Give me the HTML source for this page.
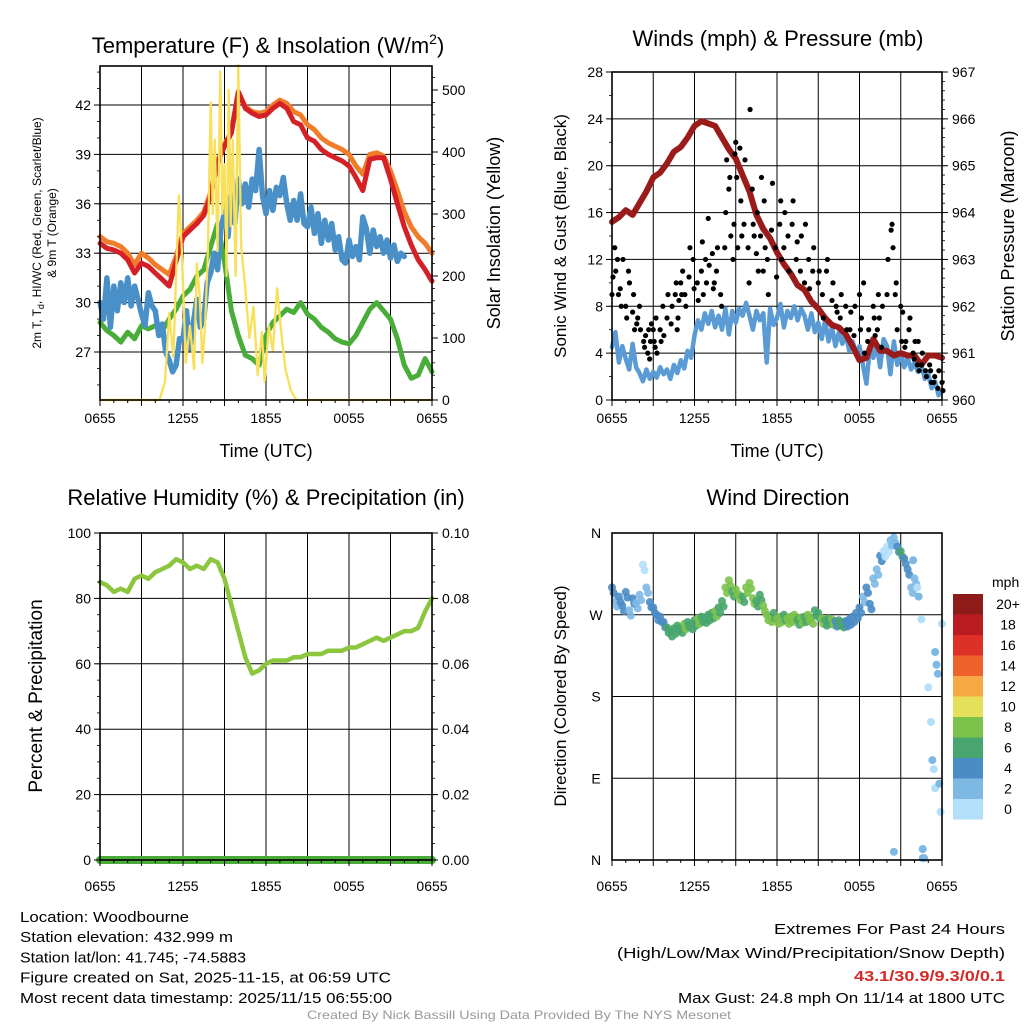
<!DOCTYPE html>
<html><head><meta charset="utf-8"><style>
html,body{margin:0;padding:0;background:#fff;}
svg{display:block;font-family:"Liberation Sans",Arial,sans-serif;}
</style></head><body>
<svg id="root" width="1024" height="1024" viewBox="0 0 1024 1024" xmlns="http://www.w3.org/2000/svg"></svg>
<script>
// ---------- DATA ----------
const halfHours = []; for (let i = 0; i <= 48; i++) halfHours.push(i * 0.5);
const quarterHours = []; for (let i = 0; i <= 96; i++) quarterHours.push(i * 0.25);
const xTickLabels = ["0655","1255","1855","0055","0655"];
const tempRed = [33.6,33.3,33.2,33.0,32.6,31.8,32.4,32.2,31.8,31.4,31.0,32.5,34.0,34.4,34.8,35.3,36.5,38.5,39.5,40.3,42.8,41.8,41.5,41.3,41.4,41.8,42.1,41.8,41.0,40.8,40.0,39.8,39.3,39.0,38.8,38.6,38.3,37.6,36.8,38.7,38.8,38.8,37.5,36.0,34.6,33.5,32.6,32.0,31.3];
const tempOrange = [34.0,33.7,33.6,33.4,33.0,32.3,33.0,32.7,32.3,32.0,31.7,32.8,34.2,34.6,35.0,35.5,36.7,38.6,39.6,40.4,42.8,41.9,41.6,41.5,41.6,42.0,42.3,42.1,41.6,41.4,40.8,40.5,40.0,39.7,39.5,39.3,39.0,38.3,37.8,39.0,39.1,38.9,38.0,36.8,35.5,34.6,34.0,33.6,33.0];
const tempBlue = [30,29,31.5,28.5,31,29.5,31.2,30,31.5,29.8,31,30.2,29.3,28.6,30.6,29.8,29.5,28,28.7,27,26.5,25.8,26.2,27.8,27.8,29.5,27.2,28.8,30.2,28.5,29,31.2,31.8,33,32,34.5,35.5,34,36.5,34.8,37.5,36,37.2,35.8,37.5,36.8,39.3,36.5,35.4,36.8,35.6,37,36.5,37.6,36,35,36.2,35,36.6,34.8,34.6,35.8,34.2,35.4,33.6,35,33.8,34.8,33.2,34,32.6,32.4,33.8,32.8,33.4,32.6,35.2,34.5,33,34.4,33.4,34,33,33.8,32.7,33.5,32.5,33,32.8];
const tempGreen = [28.8,28.3,28.0,27.6,28.2,27.8,28.6,28.4,28.6,28.3,29.0,29.6,30.4,30.8,31.6,32.0,33.4,34.8,32.5,29.5,28.0,26.8,26.6,26.2,28.0,28.8,29.2,29.6,29.4,30.0,29.3,29.0,28.5,28.2,27.8,27.6,27.5,28.0,28.8,29.6,30.0,29.5,29.0,27.8,26.2,25.4,25.6,26.6,25.8];
const solarHours = [0,4.3,4.7,5.0,5.3,5.5,5.7,5.9,6.2,6.5,6.8,7.0,7.2,7.4,7.6,7.8,8.0,8.15,8.3,8.5,8.7,8.85,9.0,9.15,9.3,9.45,9.6,9.8,10.0,10.2,10.5,10.8,11.1,11.4,11.7,11.9,12.2,12.5,12.8,13.1,13.4,13.8,14.2,24];
const solarValues = [0,0,30,140,70,200,330,250,60,120,50,220,170,60,120,240,480,300,420,240,530,300,380,200,500,280,420,200,540,250,180,100,150,40,110,30,120,80,180,110,50,15,0,0];
const tempTicks = [27,30,33,36,39,42];
const solarTicks = [0,100,200,300,400,500];

const pressure = [963.8,963.9,964.05,963.95,964.2,964.45,964.75,964.85,965.05,965.3,965.4,965.6,965.85,965.95,965.9,965.85,965.6,965.35,965.15,964.8,964.45,963.95,963.65,963.45,963.15,962.9,962.7,962.45,962.35,962.1,961.95,961.75,961.6,961.55,961.4,961.15,960.85,960.9,961.3,961.05,961.05,960.95,961.0,960.95,960.95,960.75,960.95,960.95,960.9];
const windSpeed = [4.5,5.8,3.2,4.6,3.5,2.6,4.8,2.8,2.3,1.6,2.6,1.8,2.4,1.9,2.8,2.2,2.6,1.8,3.0,2.3,3.4,2.7,4.2,3.6,5.5,6.8,6.0,7.4,6.5,7.6,6.2,7.2,6.0,7.8,5.6,7.6,6.6,7.8,7.2,8.3,7.2,6.0,7.6,6.8,7.4,3.2,7.8,6.4,7.0,8.2,6.2,7.6,7.0,8.0,6.8,7.8,7.2,6.0,7.4,5.8,6.6,5.2,6.8,5.0,6.2,4.6,5.8,4.8,5.6,4.2,5.0,4.0,4.6,3.0,1.4,4.4,3.6,4.8,2.8,5.2,4.6,2.2,5.0,3.0,4.0,2.8,3.6,2.6,3.2,2.4,3.0,1.8,2.2,1.0,1.6,0.4,0.8];
const gustHours = [0.0,0.2,0.4,0.6,0.8,1.0,1.2,1.5,1.8,2.0,2.3,2.6,2.8,3.0,3.2,3.5,3.7,4.0,4.3,4.6,4.8,5.0,5.3,5.6,5.9,6.2,6.5,6.8,7.0,7.3,7.6,7.9,8.2,8.5,8.8,9.0,9.3,9.6,9.9,10.2,10.5,10.8,11.0,11.3,11.6,11.9,12.2,12.5,12.8,13.1,13.4,13.7,14.0,14.3,14.6,15.0,15.3,15.6,16.0,16.3,16.6,17.0,17.3,17.6,18.0,18.3,18.6,19.0,19.3,19.6,20.0,20.3,20.6,21.0,21.3,21.6,21.9,22.2,22.5,22.8,23.1,23.4,23.7,24.0];
const gustValues = [[9,10.5],[13,11],[12,9],[9.5,8],[12],[8,7],[11,10],[7.5,9,6],[6.5,7],[8,6],[5,4.5,5.5],[4,6,3.5],[5,6.5],[6,5,4.5],[7,4],[6,5],[8,5.5],[7,9],[6.5,8],[9,10,6],[7,8.5],[10,9,11],[9,8],[10.5,13],[12,9.5],[10,8.5],[11,13.5,9],[12,10],[15.5,11.5],[12.5,9.5,10],[11,13],[9,8],[13,16,20.5],[18,19,14],[12,15,21],[22,19,13],[21.5,17,14],[15,20.5],[13,10,24.8],[18,15,14],[12.5,16,11],[14,19],[11,17,13],[12,9],[14.5,18.5],[13,10.5],[15,17,12],[13,16],[14,11],[15,17],[12,13.5],[11,14],[10,15],[12,9.5],[11,13],[10,11],[9,7],[11,12],[8.5,10],[8,7.5],[7,9],[8,6],[6,7.5],[5.5,8],[9,6,7],[10,4],[5,6],[8,7,5.5],[6,9,7],[4.5,8],[9,12],[14.5,15,13],[9,10,6],[8,5,7.5],[4.5,5],[6,7],[4,3.5,5],[3,5,2.5],[3,4],[2.5,2],[3,2.5,1.5],[1.5,2],[1,2.5],[1.5,0.8]];
const windTicks = [0,4,8,12,16,20,24,28];
const pressureTicks = [960,961,962,963,964,965,966,967];

const rh = [85,84,82,83,82,86,87,86,88,89,90,92,91,89,90,89,92,91,86,78,70,62,57,58,60,61,61,61,62,62,63,63,63,64,64,64,65,65,66,67,68,67,68,69,70,70,71,76,80];
const precip = [0,0];
const rhTicks = [0,20,40,60,80,100];
const precipTicks = ["0.00","0.02","0.04","0.06","0.08","0.10"];

const dirStepHours = 0.25;
const dirValues = [300,285,290,280,295,275,288,283,292,325,300,284,278,270,268,262,256,252,255,258,256,260,262,260,264,266,268,267,270,272,274,278,285,300,308,296,298,292,290,300,305,288,285,292,280,270,268,272,266,268,270,266,268,270,265,267,268,270,266,275,272,266,264,266,265,263,264,262,263,265,268,272,278,290,300,282,310,320,335,340,345,352,355,345,340,332,320,300,310];
const dirSpeeds = [4,3,4,5,4,3,4,3,2,1,3,4,5,4,5,5,6,6,7,6,7,8,7,6,7,8,7,6,7,6,8,7,7,8,8,7,9,8,7,8,9,8,7,6,8,9,8,7,8,9,7,8,9,8,6,8,7,9,8,6,7,8,6,7,8,5,6,7,5,4,5,4,5,3,4,5,3,2,4,1,1,2,3,4,6,5,4,3,2];
const lateDirHours = [22.3,22.5,22.6,22.7,23.0,23.2,23.3,23.4,23.5,23.5,23.6,23.7,23.8,23.9,24.0,20.5,22.6,22.6,22.2,21.9];
const lateDirValues = [290,265,12,2,190,152,110,100,79,229,215,205,84,53,260,9,12,2,300,330];
const lateDirSpeeds = [2,1,3,3,1,1,3,1,1,2,2,2,2,1,1,2,3,2,1,2];
const dirLabels = ["N","E","S","W","N"];
const dirTicks = [0,90,180,270,360];
const speedLegend = ["0","2","4","6","8","10","12","14","16","18","20+"];
const speedColors = ["#b3e0f8","#7db9e4","#4a8cc6","#48a56e","#7bc24a","#e5e05a","#f5a843","#f0622b","#dd3127","#bb1c22","#8f1a1a"];

// ---------- HELPERS ----------
const NS = "http://www.w3.org/2000/svg";
const root = document.getElementById("root");
function mk(tag, attrs, parent, text) {
  const e = document.createElementNS(NS, tag);
  for (const k in attrs) e.setAttribute(k, attrs[k]);
  if (text !== undefined) e.textContent = text;
  (parent || root).appendChild(e);
  return e;
}
function lin(d0, d1, r0, r1) { return v => r0 + (v - d0) * (r1 - r0) / (d1 - d0); }
function pathD(xs, ys, sx, sy) {
  return xs.map((x, i) => (i ? "L" : "M") + sx(x).toFixed(1) + "," + sy(ys[i]).toFixed(1)).join("");
}
function panelFrame(g, x0, x1, y0, y1, sy, yTicks) {
  const sx = lin(0, 24, x0, x1);
  for (let h = 0; h <= 24; h += 3) {
    const l = mk("line", {x1: sx(h), x2: sx(h), y1: y0, y2: y1, stroke: "#000", "stroke-width": 1}, g);
    
    
  }
  yTicks.forEach(v => {
    const l = mk("line", {x1: x0, x2: x1, y1: sy(v), y2: sy(v), stroke: "#000", "stroke-width": 1}, g);
    
    
  });
  return sx;
}
function border(g, x0, x1, y0, y1) {
  const r = mk("rect", {x: x0, y: y0, width: x1 - x0, height: y1 - y0, fill: "none", stroke: "#000", "stroke-width": 1.6}, g);
  
  
}
function xTicksAndLabels(g, sx, y1, ly) {
  [0, 6, 12, 18, 24].forEach((h, i) => {
    const t = mk("text", {x: sx(h), y: ly, "font-size": 14, "text-anchor": "middle"}, g, xTickLabels[i]);
    
    
  });
  for (let h = 0; h <= 24; h += 1) {
    mk("line", {x1: sx(h), x2: sx(h), y1: y1, y2: y1 + (h % 3 ? 3 : 6), stroke: "#000"}, g);
  }
}
function leftLabels(g, x0, sy, ticks, labels, minorStep, lo, hi) {
  ticks.forEach((v, i) => {
    const t = mk("text", {x: x0 - 9, y: sy(v) + 5, "font-size": 14, "text-anchor": "end"}, g, labels ? labels[i] : String(v));
    
    
    mk("line", {x1: x0 - 6, x2: x0, y1: sy(v), y2: sy(v), stroke: "#000"}, g);
  });
  if (minorStep) for (let v = lo; v <= hi + 1e-9; v += minorStep) mk("line", {x1: x0 - 3, x2: x0, y1: sy(v), y2: sy(v), stroke: "#000", "stroke-width": 0.8}, g);
}
function rightLabels(g, x1, sy, ticks, labels, minorStep, lo, hi) {
  ticks.forEach((v, i) => {
    const t = mk("text", {x: x1 + 10, y: sy(v) + 5, "font-size": 14, "text-anchor": "start"}, g, labels ? labels[i] : String(v));
    
    
    mk("line", {x1: x1, x2: x1 + 6, y1: sy(v), y2: sy(v), stroke: "#000"}, g);
  });
  if (minorStep) for (let v = lo; v <= hi + 1e-9; v += minorStep) mk("line", {x1: x1, x2: x1 + 3, y1: sy(v), y2: sy(v), stroke: "#000", "stroke-width": 0.8}, g);
}
function title(g, x, y, txt, name, size) {
  const t = mk("text", {x: x, y: y, "font-size": size || 22, "text-anchor": "middle"}, g, txt);
  
  
  return t;
}
function vtitle(g, x, y, txt, name, size) {
  const t = mk("text", {x: x, y: y, "font-size": size || 18, "text-anchor": "middle", transform: `rotate(-90 ${x} ${y})`}, g, txt);
  
  
  return t;
}
function series(g, xs, ys, sx, sy, color, w, name) {
  const p = mk("path", {d: pathD(xs, ys, sx, sy), fill: "none", stroke: color, "stroke-width": w, "stroke-linejoin": "round", "stroke-linecap": "round"}, g);
  
  
}

// ---------- PANEL 1 ----------
(function () {
  const g = mk("g", {});
  
  
  const x0 = 100, x1 = 432, y0 = 66, y1 = 400;
  const sy = lin(27, 42, 352, 105);
  const sw = lin(0, 500, 400, 90);
  const sx = panelFrame(g, x0, x1, y0, y1, sy, tempTicks);
  series(g, solarHours, solarValues, sx, sw, "#f9e05a", 2.2, "solar-insolation-line");
  series(g, halfHours, tempGreen, sx, sy, "#4aad3a", 5, "dewpoint-line");
  series(g, quarterHours.slice(0, tempBlue.length), tempBlue, sx, sy, "#4a90c8", 5.5, "heat-index-wind-chill-line");
  series(g, halfHours, tempOrange, sx, sy, "#f07d2a", 5, "9m-temperature-line");
  series(g, halfHours, tempRed, sx, sy, "#d62027", 5, "2m-temperature-line");
  series(g, solarHours.slice(0, 43), solarValues.slice(0, 43), sx, sw, "#f9e05a", 2.2, "solar-insolation-overlay");
  border(g, x0, x1, y0, y1);
  leftLabels(g, x0, sy, tempTicks, null, 1, 25, 44);
  rightLabels(g, x1, sw, solarTicks, null, 20, 0, 520);
  xTicksAndLabels(g, sx, y1, 423);
  const t = title(g, 268, 53, "", "temperature-title");
  t.innerHTML = 'Temperature (F) &amp; Insolation (W/m<tspan dy="-9" font-size="14">2</tspan><tspan dy="9">)</tspan>';
  title(g, 266, 457, "Time (UTC)", "x-axis-title", 18);
  const lt = mk("text", {x: 41, y: 233, "font-size": 12, "text-anchor": "middle", transform: "rotate(-90 41 233)"}, g);
  lt.innerHTML = '2m T, T<tspan dy="3" font-size="9">d</tspan><tspan dy="-3">, HI/WC (Red, Green, Scarlet/Blue)</tspan>';
  
  
  vtitle(g, 56, 233, "& 9m T (Orange)", "temperature-y-axis-title-line2", 12);
  vtitle(g, 500, 233, "Solar Insolation (Yellow)", "solar-y-axis-title");
})();

// ---------- PANEL 2 ----------
(function () {
  const g = mk("g", {});
  
  
  const x0 = 612, x1 = 942, y0 = 72, y1 = 400;
  const sy = lin(0, 28, 400, 72);
  const sp = lin(960, 967, 400, 72);
  const sx = panelFrame(g, x0, x1, y0, y1, sy, windTicks);
  series(g, quarterHours, windSpeed, sx, sy, "#5a9bd5", 4.5, "sonic-wind-line");
  series(g, halfHours, pressure, sx, sp, "#9b1b1b", 6, "station-pressure-line");
  gustHours.forEach((h, i) => {
    gustValues[i].forEach((v, j) => {
      const c = mk("circle", {cx: sx(h + j * 0.07), cy: sy(v), r: 2.6, fill: "#000"}, g);
      
      
    });
  });
  border(g, x0, x1, y0, y1);
  leftLabels(g, x0, sy, windTicks, null, 2, 0, 28);
  rightLabels(g, x1, sp, pressureTicks, null, 0.2, 960, 967);
  xTicksAndLabels(g, sx, y1, 423);
  title(g, 778, 46, "Winds (mph) & Pressure (mb)", "wind-pressure-title");
  title(g, 777, 457, "Time (UTC)", "x-axis-title", 18);
  vtitle(g, 566, 236, "Sonic Wind & Gust (Blue, Black)", "wind-y-axis-title", 17);
  vtitle(g, 1014, 236, "Station Pressure (Maroon)", "pressure-y-axis-title", 18);
})();

// ---------- PANEL 3 ----------
(function () {
  const g = mk("g", {});
  
  
  const x0 = 100, x1 = 432, y0 = 533, y1 = 860;
  const sy = lin(0, 100, 860, 533);
  const sx = panelFrame(g, x0, x1, y0, y1, sy, rhTicks);
  series(g, halfHours, rh, sx, sy, "#8cc63f", 4.5, "relative-humidity-line");
  const spr = lin(0, 0.1, 860, 533);
  series(g, [0, 24], precip, sx, spr, "#4aaa3a", 8, "precipitation-line");
  border(g, x0, x1, y0, y1);
  leftLabels(g, x0, sy, rhTicks, null, 5, 0, 100);
  rightLabels(g, x1, sy, rhTicks, precipTicks, 5, 0, 100);
  xTicksAndLabels(g, sx, y1, 891);
  title(g, 266, 505, "Relative Humidity (%) & Precipitation (in)", "humidity-title");
  vtitle(g, 42, 696, "Percent & Precipitation", "humidity-y-axis-title", 19);
})();

// ---------- PANEL 4 ----------
(function () {
  const g = mk("g", {});
  
  
  const x0 = 612, x1 = 942, y0 = 533, y1 = 860;
  const sy = lin(0, 360, 860, 533);
  const sx = panelFrame(g, x0, x1, y0, y1, sy, dirTicks);
  const col = s => speedColors[Math.min(10, Math.floor(s / 2))];
  dirValues.forEach((d, i) => {
    const c = mk("circle", {cx: sx(i * dirStepHours), cy: sy(d), r: 4, fill: col(dirSpeeds[i]), "fill-opacity": 0.9}, g);
    
    
    const c2 = mk("circle", {cx: sx(i * dirStepHours + 0.12), cy: sy(d - 6), r: 4, fill: col(dirSpeeds[i]), "fill-opacity": 0.9}, g);
    
    
  });
  lateDirHours.forEach((h, i) => {
    const c = mk("circle", {cx: sx(h), cy: sy(lateDirValues[i]), r: 4, fill: col(lateDirSpeeds[i])}, g);
    
    
  });
  border(g, x0, x1, y0, y1);
  dirTicks.forEach((v, i) => {
    const t = mk("text", {x: x0 - 16, y: sy(v) + 5, "font-size": 14, "text-anchor": "middle"}, g, dirLabels[i]);
    
    
  });
  xTicksAndLabels(g, sx, y1, 891);
  title(g, 778, 505, "Wind Direction", "wind-direction-title");
  vtitle(g, 566, 696, "Direction (Colored By Speed)", "direction-y-axis-title", 17);
  const lg = mk("g", {}, g);
  
  
  const t = mk("text", {x: 992, y: 587, "font-size": 14}, lg, "mph");
  
  
  speedLegend.forEach((lab, i) => {
    const yy = 799 - i * 20.5;
    const r = mk("rect", {x: 953, y: yy, width: 30, height: 20.5, fill: speedColors[i]}, lg);
    
    
    const tx = mk("text", {x: 1008, y: yy + 15, "font-size": 14, "text-anchor": "middle"}, lg, lab);
    
    
  });
})();

// ---------- FOOTER ----------
(function () {
  const g = mk("g", {});
  
  
  const left = [["Location: Woodbourne",169],["Station elevation: 432.999 m",213],["Station lat/lon: 41.745; -74.5883",226],["Figure created on Sat, 2025-11-15, at 06:59 UTC",371],["Most recent data timestamp: 2025/11/15 06:55:00",372]];
  left.forEach((l, i) => {
    const t = mk("text", {x: 20, y: 922 + i * 20.2, "font-size": 15, textLength: l[1], lengthAdjust: "spacingAndGlyphs"}, g, l[0]);
    
    
  });
  const right = [["Extremes For Past 24 Hours",231,"#000","normal",934],["(High/Low/Max Wind/Precipitation/Snow Depth)",388,"#000","normal",958],["43.1/30.9/9.3/0/0.1",151,"#d42a2a","bold",981],["Max Gust: 24.8 mph On 11/14 at 1800 UTC",327,"#000","normal",1003]];
  right.forEach(l => {
    const t = mk("text", {x: 1005 - l[1], y: l[4], "font-size": 15, fill: l[2], "font-weight": l[3], textLength: l[1], lengthAdjust: "spacingAndGlyphs"}, g, l[0]);
    
    
  });
  const c = mk("text", {x: 307, y: 1019, "font-size": 12, fill: "#999", textLength: 424, lengthAdjust: "spacingAndGlyphs"}, g, "Created By Nick Bassill Using Data Provided By The NYS Mesonet");
  
  
})();
</script>
</body></html>
